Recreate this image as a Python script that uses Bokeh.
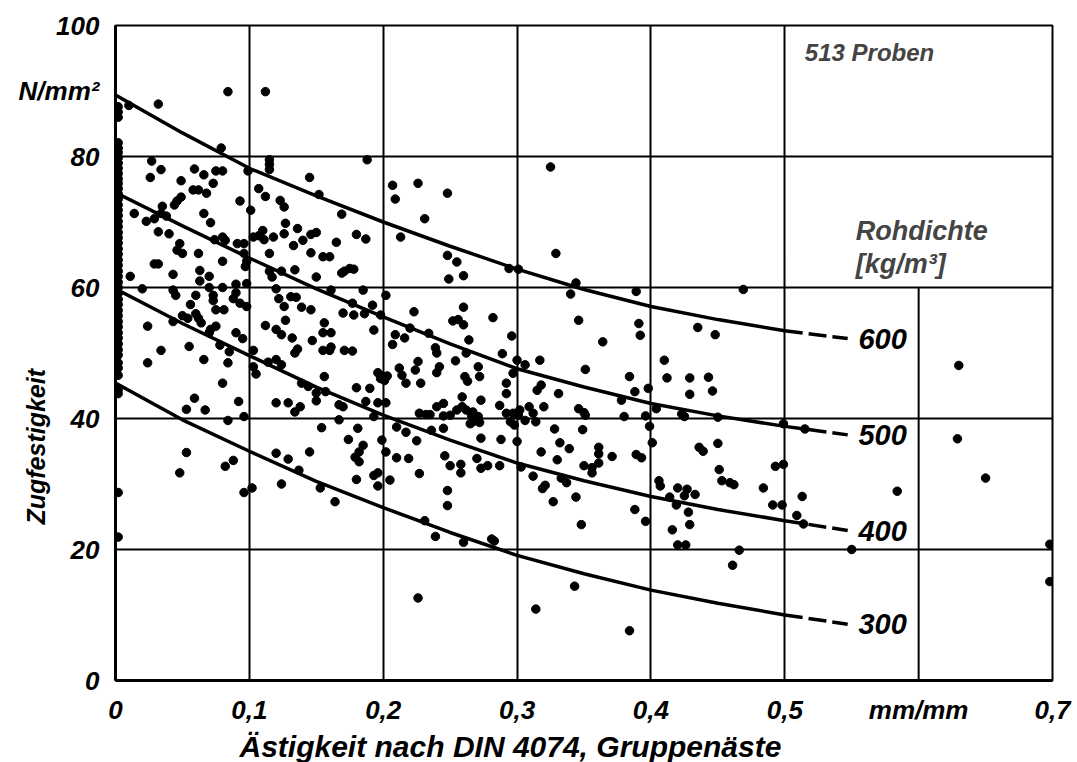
from bokeh.plotting import figure
from bokeh.models import FixedTicker, Label, Title
from bokeh.core.properties import value
from bokeh.embed import file_html
from bokeh.resources import INLINE

# ---------------- data ----------------
x_ticks = [0, 0.1, 0.2, 0.3, 0.4, 0.5, 0.6, 0.7]
x_tick_labels = ["0", "0,1", "0,2", "0,3", "0,4", "0,5", "mm/mm", "0,7"]
y_ticks = [0, 20, 40, 60, 80, 90, 100]
y_tick_labels = ["0", "20", "40", "60", "80", "N/mm²", "100"]

densities = ["600", "500", "400", "300"]
curve_x = [0, 0.05, 0.1, 0.15, 0.2, 0.25, 0.3, 0.35, 0.4, 0.45, 0.5]
curve_600 = [89.4, 83.6, 78.2, 74.0, 70.0, 66.3, 62.8, 59.7, 57.1, 55.1, 53.4]
curve_500 = [74.5, 69.4, 64.5, 59.8, 55.5, 51.4, 47.6, 44.8, 42.3, 40.4, 38.8]
curve_400 = [59.8, 54.5, 49.6, 44.8, 40.5, 36.7, 33.2, 30.5, 28.1, 26.1, 24.4]
curve_300 = [45.4, 39.8, 35.0, 30.4, 26.4, 22.6, 19.1, 16.3, 13.8, 11.8, 10.0]
ext_x = [0.5, 0.547]
ext_600 = [53.4, 52.2]
ext_500 = [38.8, 37.5]
ext_400 = [24.4, 22.9]
ext_300 = [10.0, 8.6]

# samples with no knots (x = 0 column)
zero_col_y = [87.6, 86.8, 86.0, 82.1, 81.3, 80.6, 79.8, 79.0, 78.2, 77.4, 76.6, 75.9,
              75.1, 74.3, 73.5, 72.6, 71.8, 71.0, 70.1, 69.3, 68.4, 67.6, 66.8, 65.9,
              65.1, 64.2, 63.4, 62.5, 61.7, 60.8, 60.0, 59.1, 58.2, 57.4, 56.5, 55.7,
              54.8, 54.0, 53.1, 52.3, 51.4, 50.5, 49.7, 48.5, 47.7, 46.6, 44.4, 43.8,
              28.7, 21.9]
zero_col_x = [0.002] * len(zero_col_y)

samples = [
    (0.084, 89.9), (0.112, 89.9), (0.032, 88.0), (0.010, 87.8), (0.079, 81.3), (0.115, 79.5),
    (0.115, 78.8), (0.115, 78.0), (0.027, 79.3), (0.034, 78.0), (0.026, 76.8), (0.049, 76.3),
    (0.059, 78.1), (0.066, 77.2), (0.075, 77.8), (0.080, 77.8), (0.073, 75.9), (0.058, 74.9),
    (0.062, 74.9), (0.068, 74.4), (0.049, 73.8), (0.046, 73.2), (0.044, 72.6), (0.035, 72.4),
    (0.034, 71.3), (0.014, 71.3), (0.023, 70.1), (0.029, 70.5), (0.038, 70.9), (0.066, 71.3),
    (0.071, 69.9), (0.032, 68.5), (0.040, 68.2), (0.093, 73.2), (0.099, 77.8), (0.101, 71.8),
    (0.107, 75.1), (0.112, 73.9), (0.123, 73.3), (0.126, 72.3), (0.145, 76.8), (0.152, 74.2),
    (0.169, 71.2), (0.127, 69.8), (0.126, 68.2), (0.136, 69.0), (0.107, 67.9), (0.110, 68.7),
    (0.111, 67.3), (0.118, 67.7), (0.103, 67.7), (0.146, 68.1), (0.150, 68.4), (0.140, 67.2),
    (0.133, 66.4), (0.165, 66.9), (0.080, 67.7), (0.082, 67.2), (0.074, 67.3), (0.091, 66.7),
    (0.096, 66.7), (0.048, 66.7), (0.046, 65.7), (0.050, 65.2), (0.062, 65.2), (0.029, 63.6),
    (0.032, 63.6), (0.080, 64.0), (0.096, 65.2), (0.098, 64.0), (0.097, 63.2), (0.115, 65.2),
    (0.146, 65.3), (0.155, 64.7), (0.160, 64.7), (0.011, 61.7), (0.043, 62.0), (0.063, 62.6),
    (0.063, 61.0), (0.070, 61.7), (0.115, 62.5), (0.117, 61.6), (0.124, 62.5), (0.134, 62.7),
    (0.150, 61.6), (0.169, 62.2), (0.171, 62.5), (0.020, 59.8), (0.043, 59.6), (0.045, 58.8),
    (0.060, 58.8), (0.070, 60.0), (0.080, 60.0), (0.090, 60.5), (0.098, 60.6), (0.073, 58.8),
    (0.073, 58.0), (0.056, 57.4), (0.090, 59.2), (0.088, 58.3), (0.075, 56.6), (0.081, 56.6),
    (0.093, 57.6), (0.098, 57.1), (0.120, 59.8), (0.122, 58.3), (0.126, 57.1), (0.131, 58.6),
    (0.135, 58.5), (0.139, 57.0), (0.146, 56.6), (0.161, 59.6), (0.170, 56.1), (0.024, 54.1),
    (0.043, 54.8), (0.050, 55.7), (0.054, 55.3), (0.060, 56.0), (0.062, 55.3), (0.064, 54.6),
    (0.070, 53.1), (0.075, 54.1), (0.071, 53.6), (0.090, 53.1), (0.095, 52.2), (0.112, 54.2),
    (0.120, 53.6), (0.124, 52.8), (0.132, 52.3), (0.127, 55.0), (0.156, 54.6), (0.155, 53.1),
    (0.161, 53.1), (0.147, 51.9), (0.034, 50.4), (0.055, 51.0), (0.078, 51.2), (0.085, 50.2),
    (0.103, 50.4), (0.136, 50.6), (0.134, 50.0), (0.155, 50.4), (0.160, 50.4), (0.161, 50.9),
    (0.024, 48.5), (0.066, 49.0), (0.084, 48.5), (0.080, 45.4), (0.103, 47.9), (0.105, 46.8),
    (0.114, 48.6), (0.120, 49.0), (0.124, 48.2), (0.156, 46.4), (0.139, 45.4), (0.144, 44.9),
    (0.150, 43.9), (0.157, 44.1), (0.167, 42.1), (0.059, 43.1), (0.053, 41.4), (0.067, 41.3),
    (0.092, 42.6), (0.120, 42.4), (0.129, 42.4), (0.134, 41.0), (0.138, 41.8), (0.150, 42.7),
    (0.167, 39.8), (0.084, 39.7), (0.096, 40.3), (0.154, 38.6), (0.053, 34.8), (0.048, 31.7),
    (0.082, 32.7), (0.088, 33.6), (0.120, 34.7), (0.129, 33.8), (0.137, 32.1), (0.145, 34.9),
    (0.124, 30.0), (0.153, 29.4), (0.164, 27.3), (0.096, 28.7), (0.102, 29.4),
    (0.188, 79.5), (0.207, 75.6), (0.209, 73.5), (0.226, 75.9), (0.248, 74.4), (0.231, 70.5),
    (0.180, 68.1), (0.187, 67.4), (0.213, 67.7), (0.248, 64.9), (0.255, 63.9), (0.249, 61.3),
    (0.260, 61.8), (0.175, 62.9), (0.178, 62.8), (0.294, 62.9), (0.301, 62.8), (0.325, 78.4),
    (0.329, 65.2), (0.340, 59.0), (0.185, 59.6), (0.202, 58.8), (0.177, 57.6), (0.178, 55.8),
    (0.186, 56.0), (0.192, 57.3), (0.198, 55.8), (0.193, 53.5), (0.223, 56.3), (0.220, 53.8),
    (0.209, 52.8), (0.216, 52.3), (0.207, 51.3), (0.234, 53.0), (0.260, 57.0), (0.252, 54.9),
    (0.256, 55.1), (0.260, 54.3), (0.264, 52.0), (0.239, 50.8), (0.240, 50.0), (0.282, 55.4),
    (0.296, 52.6), (0.289, 49.9), (0.171, 50.4), (0.177, 50.3), (0.262, 50.0),
    (0.344, 60.7), (0.389, 59.4), (0.469, 59.7), (0.346, 55.0), (0.391, 54.5), (0.392, 52.7),
    (0.364, 51.7), (0.435, 53.9), (0.448, 52.8),
    (0.196, 47.0), (0.199, 46.5), (0.203, 46.5), (0.198, 46.1), (0.201, 45.8), (0.212, 47.7),
    (0.214, 46.6), (0.224, 47.4), (0.226, 48.7), (0.217, 45.4), (0.228, 45.4), (0.242, 47.9),
    (0.240, 47.0), (0.254, 48.8), (0.261, 46.4), (0.263, 45.7), (0.271, 47.9), (0.272, 46.4),
    (0.300, 48.9), (0.306, 48.2), (0.317, 48.9), (0.297, 46.9), (0.292, 45.4), (0.292, 43.8),
    (0.318, 45.1), (0.315, 44.3), (0.331, 43.8), (0.180, 44.7), (0.190, 44.6), (0.187, 42.6),
    (0.196, 42.4), (0.202, 42.4), (0.259, 43.3), (0.273, 42.8), (0.170, 41.8), (0.245, 42.3),
    (0.240, 41.8), (0.227, 40.8), (0.232, 40.6), (0.235, 40.6), (0.255, 41.3), (0.259, 41.8),
    (0.262, 41.3), (0.266, 40.5), (0.267, 41.0), (0.271, 40.3), (0.267, 39.5), (0.272, 39.4),
    (0.265, 39.2), (0.250, 40.5), (0.245, 40.4), (0.287, 42.0), (0.292, 40.8), (0.297, 40.8),
    (0.301, 40.5), (0.295, 39.5), (0.298, 39.0), (0.302, 41.3), (0.309, 41.8), (0.306, 39.7),
    (0.312, 40.8), (0.314, 39.5), (0.320, 41.8), (0.181, 38.5), (0.193, 40.3), (0.210, 38.7),
    (0.217, 37.9), (0.225, 36.6), (0.236, 38.2), (0.245, 38.5), (0.174, 36.8), (0.199, 36.7),
    (0.273, 37.0), (0.288, 36.8), (0.300, 36.5), (0.328, 38.4), (0.332, 36.3), (0.339, 35.4),
    (0.185, 35.9), (0.182, 34.9), (0.179, 34.1), (0.182, 33.4), (0.202, 34.9), (0.210, 34.0),
    (0.219, 33.9), (0.246, 34.3), (0.250, 32.8), (0.258, 33.0), (0.258, 31.7), (0.270, 33.9),
    (0.273, 32.4), (0.278, 32.8), (0.287, 32.8), (0.303, 32.6), (0.318, 34.9), (0.330, 33.7),
    (0.312, 31.2), (0.333, 30.9), (0.337, 30.2), (0.193, 31.3), (0.196, 31.7), (0.196, 29.7),
    (0.180, 30.7), (0.205, 30.6), (0.227, 31.6), (0.248, 29.0), (0.248, 26.7), (0.319, 29.3),
    (0.321, 29.8), (0.327, 27.3), (0.231, 24.4), (0.239, 22.0), (0.260, 21.1), (0.281, 21.6),
    (0.283, 21.3), (0.226, 12.6), (0.314, 10.9),
    (0.351, 47.5), (0.410, 48.9), (0.384, 46.4), (0.412, 46.2), (0.429, 46.2), (0.443, 46.3),
    (0.429, 43.7), (0.446, 44.2), (0.388, 44.1), (0.398, 44.6), (0.378, 42.8), (0.346, 41.5),
    (0.350, 40.9), (0.351, 40.5), (0.380, 40.3), (0.396, 40.4), (0.404, 41.5), (0.423, 40.7),
    (0.425, 40.3), (0.450, 40.2), (0.499, 39.2), (0.515, 38.4), (0.349, 38.3), (0.399, 38.8),
    (0.401, 36.3), (0.361, 35.6), (0.361, 34.6), (0.361, 33.2), (0.350, 32.8), (0.356, 32.5),
    (0.356, 31.7), (0.371, 34.2), (0.389, 34.5), (0.393, 34.0), (0.436, 35.6), (0.439, 35.0),
    (0.450, 36.2), (0.451, 32.2), (0.453, 30.5), (0.459, 30.2), (0.462, 29.9), (0.484, 29.4),
    (0.493, 32.7), (0.499, 33.0), (0.513, 28.1), (0.406, 30.5), (0.407, 29.7), (0.420, 29.4),
    (0.427, 29.2), (0.425, 28.2), (0.433, 28.4), (0.414, 28.0), (0.419, 26.8), (0.344, 28.0),
    (0.388, 26.1), (0.396, 24.3), (0.428, 25.7), (0.429, 23.8), (0.491, 26.8), (0.498, 26.8),
    (0.509, 25.2), (0.514, 23.9), (0.348, 23.8), (0.416, 23.0), (0.420, 20.7), (0.426, 20.7),
    (0.466, 19.9), (0.461, 17.6), (0.343, 14.4), (0.384, 7.6),
    (0.630, 48.1), (0.629, 36.9), (0.650, 30.9), (0.584, 28.9), (0.550, 20.0), (0.698, 20.8),
    (0.698, 15.1),
]
sample_x = zero_col_x + [s[0] for s in samples]
sample_y = zero_col_y + [s[1] for s in samples]

x_title = "Ästigkeit nach DIN 4074, Gruppenäste"
y_title = "Zugfestigkeit"
note_text = "513 Proben"
legend_title = ["Rohdichte", "[kg/m³]"]

# ---------------- figure ----------------
FONT = "Liberation Sans"
STYLE = "bold italic"

p = figure(width=1072, height=762, x_range=(0, 0.7), y_range=(0, 100),
           output_backend="svg", toolbar_location=None,
           min_border_left=115, min_border_right=20, min_border_top=25, min_border_bottom=78)
p.background_fill_color = "white"
p.border_fill_color = "white"
p.outline_line_color = "black"
p.outline_line_width = 2

for ax, ticks, labels in ((p.xaxis[0], x_ticks, x_tick_labels), (p.yaxis[0], y_ticks, y_tick_labels)):
    ax.ticker = FixedTicker(ticks=ticks)
    ax.major_label_overrides = dict(zip(ticks, labels))
    ax.axis_line_color = "black"
    ax.axis_line_width = 3
    ax.major_tick_line_color = None
    ax.minor_tick_line_color = None
    ax.major_label_text_font = FONT
    ax.major_label_text_font_style = STYLE
    ax.major_label_text_font_size = "26px"
    ax.major_label_text_color = "black"
    ax.major_label_standoff = 10
p.xaxis[0].major_label_standoff = 8

# y axis title, pulled in next to the tick labels and shifted down with trailing no-break spaces
yax = p.yaxis[0]
yax.axis_label = y_title + "\u00a0" * 27
yax.axis_label_standoff = -34
yax.axis_label_text_font = FONT
yax.axis_label_text_font_style = STYLE
yax.axis_label_text_font_size = "25px"
yax.axis_label_text_color = "black"

# x axis title, left of centre as in the reference
p.add_layout(Title(text=x_title, align="left", offset=124, standoff=0,
                   text_font=FONT, text_font_style=STYLE, text_font_size="30px",
                   text_color="black"), "below")

p.xgrid.ticker = FixedTicker(ticks=x_ticks[1:6])
p.ygrid.ticker = FixedTicker(ticks=y_ticks[1:5])
for g in (p.xgrid[0], p.ygrid[0]):
    g.grid_line_color = "black"
    g.grid_line_width = 2
    g.grid_line_alpha = 1.0

# partial grid line at 0.6 (only below 60)
p.segment(x0=[x_ticks[6]], y0=[y_ticks[0]], x1=[x_ticks[6]], y1=[y_ticks[3]],
          line_color="black", line_width=2)

# regression curves per density
curves = [curve_600, curve_500, curve_400, curve_300]
exts = [ext_600, ext_500, ext_400, ext_300]
for c, e in zip(curves, exts):
    p.line(curve_x, c, line_color="black", line_width=3.5)
    p.line(ext_x, e, line_color="black", line_width=3.5, line_dash="18 6")

p.text(x=[ext_x[1] + 0.008] * 4, y=[e[1] for e in exts], text=densities,
       text_font=value(FONT), text_font_style=STYLE, text_font_size="29px",
       text_baseline="middle", text_align="left", text_color="black")

# samples
p.scatter(sample_x, sample_y, size=8.5, fill_color="black", line_color="black")

# annotations inside the frame
p.add_layout(Label(x=0.515, y=95.9, text=note_text, text_font=FONT,
                   text_font_style=STYLE, text_font_size="24px",
                   text_baseline="middle", text_align="left"))
p.add_layout(Label(x=0.553, y=68.6, text=legend_title[0], text_font=FONT,
                   text_font_style=STYLE, text_font_size="27px",
                   text_baseline="middle", text_align="left"))
p.add_layout(Label(x=0.553, y=63.6, text=legend_title[1], text_font=FONT,
                   text_font_style=STYLE, text_font_size="27px",
                   text_baseline="middle", text_align="left"))

open("out.html", "w").write(file_html(p, INLINE))
